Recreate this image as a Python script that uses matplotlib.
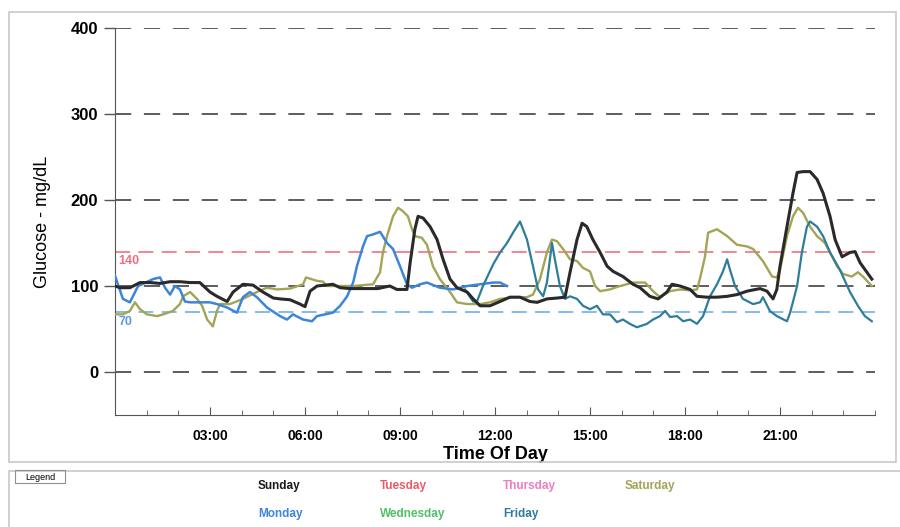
import matplotlib

matplotlib.use("Agg")
import matplotlib.pyplot as plt
from matplotlib.patches import Rectangle
from matplotlib.ticker import MultipleLocator

plt.rcParams["font.family"] = ["Liberation Sans", "DejaVu Sans"]

# hours since midnight / glucose mg/dL
sun_h = [0, 0.16, 0.47, 0.79, 1.11, 1.42, 1.74, 2.05, 2.37, 2.68, 3.0, 3.22, 3.54, 3.73, 4.04, 4.36,
         4.67, 5.0, 5.21, 5.53, 5.84, 6.0, 6.16, 6.38, 6.88, 7.11, 7.42, 7.96, 8.3, 8.68, 8.9, 9.22,
         9.32, 9.47, 9.57, 9.73, 9.95, 10.17, 10.36, 10.58, 10.8, 11.12, 11.31, 11.53, 11.84, 12.16,
         12.47, 12.79, 13.1, 13.33, 13.64, 13.96, 14.21, 14.37, 14.59, 14.75, 14.9, 15.09, 15.32,
         15.54, 15.73, 16.04, 16.36, 16.58, 16.89, 17.15, 17.43, 17.59, 17.84, 18.16, 18.38, 18.69,
         19.01, 19.33, 19.64, 19.96, 20.37, 20.59, 20.78, 20.9, 21.0, 21.22, 21.41, 21.54, 21.73,
         21.95, 22.17, 22.36, 22.58, 22.74, 22.96, 23.21, 23.37, 23.53, 23.9]
sun_v = [100, 98, 98, 104, 104, 103, 105, 105, 104, 104, 93, 88, 82, 93, 102, 101,
         93, 86, 85, 84, 79, 76, 94, 100, 102, 98, 97, 97, 97, 100, 96, 96,
         127, 166, 181, 179, 169, 154, 131, 108, 98, 93, 85, 77, 77, 82,
         87, 87, 82, 81, 85, 86, 87, 116, 154, 173, 169, 154, 139,
         123, 117, 111, 102, 98, 88, 85, 93, 102, 100, 96, 88, 87,
         87, 88, 90, 94, 97, 94, 85, 96, 123, 169, 208, 232, 233,
         233, 224, 208, 181, 154, 134, 139, 140, 127, 108]

mon_h = [0, 0.25, 0.47, 0.73, 1.2, 1.42, 1.58, 1.74, 1.89, 2.05, 2.21, 2.37, 3.0, 3.22, 3.54, 3.85,
         4.04, 4.26, 4.48, 4.8, 5.21, 5.43, 5.62, 5.94, 6.22, 6.38, 6.88, 7.11, 7.33, 7.52, 7.64,
         7.83, 7.96, 8.15, 8.37, 8.59, 8.78, 9.0, 9.22, 9.38, 9.63, 9.85, 10.26, 10.67, 11.12,
         11.53, 11.94, 12.16, 12.38]
mon_v = [112, 85, 81, 100, 108, 110, 98, 90, 100, 96, 82, 81, 81, 79, 75, 69,
         87, 93, 87, 75, 65, 61, 67, 61, 59, 65, 69, 77, 88, 104, 123,
         146, 158, 160, 163, 150, 143, 123, 102, 98, 102, 104, 98, 96, 100,
         102, 104, 104, 100]

fri_h = [11.05, 11.31, 11.43, 11.62, 11.94, 12.16, 12.38, 12.57, 12.79, 13.01, 13.2, 13.36, 13.52,
         13.64, 13.8, 13.89, 14.05, 14.21, 14.37, 14.59, 14.78, 15.0, 15.22, 15.41, 15.63, 15.85,
         16.04, 16.26, 16.48, 16.8, 16.99, 17.21, 17.37, 17.53, 17.75, 17.94, 18.16, 18.38, 18.57,
         18.79, 19.01, 19.2, 19.33, 19.42, 19.58, 19.83, 20.15, 20.37, 20.46, 20.68, 20.9, 21.22,
         21.32, 21.54, 21.69, 21.85, 21.95, 22.17, 22.36, 22.58, 22.89, 23.21, 23.46, 23.68, 23.9]
fri_v = [96, 82, 82, 100, 125, 139, 150, 162, 175, 154, 123, 96, 88,
         104, 150, 131, 100, 85, 88, 85, 77, 73, 77, 67, 67, 58,
         61, 56, 52, 56, 61, 65, 71, 64, 65, 59, 61, 56, 65,
         88, 102, 117, 131, 119, 100, 85, 79, 81, 87, 71, 65, 59,
         69, 100, 139, 169, 175, 169, 158, 139, 119, 93, 77, 65, 59]

sat_h = [0, 0.25, 0.47, 0.63, 0.79, 1.01, 1.33, 1.52, 1.83, 2.05, 2.15, 2.37, 2.59, 2.75, 2.91, 3.09,
         3.22, 3.32, 3.63, 4.04, 4.48, 4.8, 5.12, 5.53, 5.94, 6.03, 6.38, 6.57, 6.69, 7.11, 7.52,
         8.15, 8.37, 8.46, 8.59, 8.78, 8.94, 9.09, 9.25, 9.38, 9.47, 9.69, 9.85, 10.04, 10.26,
         10.58, 10.8, 11.12, 11.53, 11.84, 12.16, 12.57, 13.01, 13.2, 13.42, 13.64, 13.8, 13.96,
         14.15, 14.37, 14.59, 14.78, 15.0, 15.16, 15.32, 15.63, 15.95, 16.36, 16.74, 16.99, 17.21,
         17.53, 17.84, 18.16, 18.38, 18.47, 18.63, 18.73, 19.01, 19.33, 19.64, 19.96, 20.15, 20.46,
         20.75, 20.9, 21.0, 21.22, 21.41, 21.57, 21.73, 21.95, 22.17, 22.42, 22.58, 22.8, 22.99,
         23.27, 23.46, 23.62, 23.9]
sat_v = [67, 67, 71, 81, 73, 67, 65, 67, 71, 79, 88, 93, 85, 77, 61, 53,
         71, 79, 79, 85, 93, 98, 96, 97, 102, 110, 106, 105, 100, 100, 100,
         102, 116, 139, 158, 181, 191, 187, 181, 166, 158, 156, 148, 123, 108,
         93, 81, 79, 79, 81, 85, 87, 87, 90, 108, 139, 154, 152,
         143, 131, 129, 121, 117, 100, 94, 96, 100, 104, 104, 94, 87,
         94, 96, 95, 96, 108, 134, 162, 166, 158, 148, 146, 143, 129,
         111, 110, 119, 158, 181, 191, 185, 169, 158, 150, 139, 123, 114,
         111, 116, 111, 100]

y_ticks = [0, 100, 200, 300, 400]
x_ticks = [3, 6, 9, 12, 15, 18, 21]
x_labels = ["03:00", "06:00", "09:00", "12:00", "15:00", "18:00", "21:00"]
high_limit = 140
low_limit = 70

legend_rows = [
    [("Sunday", "#1a1a1a"), ("Tuesday", "#ec5a6a"), ("Thursday", "#f07cc0"), ("Saturday", "#a3a455")],
    [("Monday", "#3d85d8"), ("Wednesday", "#4fbf6a"), ("Friday", "#2e7d9a")],
]

fig = plt.figure(figsize=(9, 5.27), dpi=100)
ax = fig.add_axes([115 / 900, 1 - 415 / 527, 760 / 900, 387 / 527])

# outer frames
fig.patches.append(Rectangle((9 / 900, 1 - 462 / 527), 887 / 900, 450 / 527, transform=fig.transFigure,
                             fill=False, ec="#c8c8c8", lw=1.2))
fig.patches.append(Rectangle((9 / 900, -0.01), 900 / 900, 61 / 527, transform=fig.transFigure,
                             fill=False, ec="#c8c8c8", lw=1.2))
fig.patches.append(Rectangle((15 / 900, 1 - 483 / 527), 50 / 900, 13 / 527, transform=fig.transFigure,
                             fill=False, ec="#909090", lw=0.8))
fig.text(40 / 900, 1 - 477 / 527, "Legend", fontsize=6.5, ha="center", va="center")

for y in y_ticks:
    ax.axhline(y, color="#505050", lw=1.3, ls=(0, (9, 7)), zorder=1)
ax.axhline(high_limit, color="#f07080", lw=1.2, ls=(0, (9, 5)), zorder=1)
ax.axhline(low_limit, color="#70b0ea", lw=1.2, ls=(0, (9, 5)), zorder=1)
ax.text(0.1, 129, str(high_limit), color="#f07080", fontsize=9, fontweight="bold", va="center")
ax.text(0.1, 58, str(low_limit), color="#5a9ae0", fontsize=9, fontweight="bold", va="center")

ax.plot(sat_h, sat_v, color="#a3a455", lw=1.7, zorder=3)
ax.plot(mon_h, mon_v, color="#3d85d8", lw=1.8, zorder=3)
ax.plot(fri_h, fri_v, color="#2e7d9a", lw=1.6, zorder=3)
ax.plot(sun_h, sun_v, color="#2a2a2a", lw=2.2, zorder=4)

ax.set_xlim(0, 24)
ax.set_ylim(-50, 400)
ax.set_yticks(y_ticks)
ax.set_xticks(x_ticks)
ax.set_xticklabels(x_labels)
ax.xaxis.set_minor_locator(MultipleLocator(1))
ax.tick_params(axis="y", direction="out", length=8, width=1, color="#555555", labelsize=12, pad=4)
ax.tick_params(axis="x", which="major", direction="in", length=6, color="#555555", labelsize=10, pad=10)
ax.tick_params(axis="x", which="minor", direction="in", length=3.5, color="#555555")
for lab in ax.get_xticklabels() + ax.get_yticklabels():
    lab.set_fontweight("bold")
for s in ("top", "right"):
    ax.spines[s].set_visible(False)
ax.spines["left"].set_color("#555555")
ax.spines["bottom"].set_color("#555555")
ax.spines["left"].set_bounds(-50, 400)

ax.set_xlabel("Time Of Day", fontsize=13, fontweight="bold", labelpad=2)
ax.set_ylabel("Glucose - mg/dL", fontsize=13, labelpad=14)

col_x = [258, 380, 503, 625]
row_y = [486, 514]
for r, row in enumerate(legend_rows):
    for c, (name, color) in enumerate(row):
        fig.text(col_x[c] / 900, 1 - row_y[r] / 527, name, color=color, fontsize=8.5,
                 fontweight="bold", va="center")

fig.savefig("out.png", dpi=100)
